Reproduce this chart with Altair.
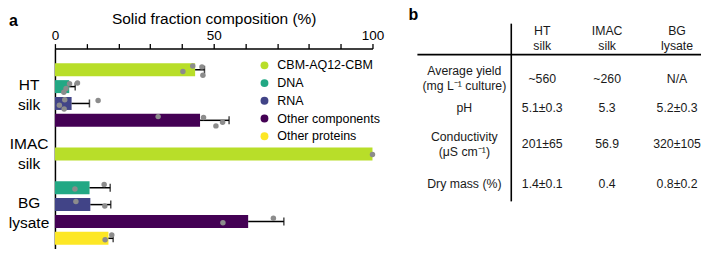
import altair as alt
import pandas as pd

# ---------------- data ----------------
COMPONENTS = ["CBM-AQ12-CBM", "DNA", "RNA", "Other components", "Other proteins"]
COLORS = ["#b8de29", "#22a884", "#414487", "#440154", "#fde725"]

# replicate values (% of solid fraction)
HT_CBM = [43.4, 46.3, 40.3, 46.6]
HT_DNA = [7.1, 4.6, 3.5, 2.8]
HT_RNA = [3.1, 13.6, 1.4, 2.9]
HT_OTHER = [32.5, 46.8, 52.8, 50.7]
IMAC_CBM = [100.0]
BG_DNA = [15.5, 6.3]
BG_RNA = [6.6, 15.7]
BG_OTHER = [68.8, 52.9]
BG_OP = [17.9, 15.8]

GROUPS = ["HT silk", "IMAC silk", "BG lysate"]
GROUP_LINES = [["HT", "silk"], ["IMAC", "silk"], ["BG", "lysate"]]

# bar order, top to bottom (None = empty slot between groups)
BAR_ORDER = [
    ("HT silk", "CBM-AQ12-CBM", HT_CBM),
    ("HT silk", "DNA", HT_DNA),
    ("HT silk", "RNA", HT_RNA),
    ("HT silk", "Other components", HT_OTHER),
    None,
    ("IMAC silk", "CBM-AQ12-CBM", IMAC_CBM),
    None,
    ("BG lysate", "DNA", BG_DNA),
    ("BG lysate", "RNA", BG_RNA),
    ("BG lysate", "Other components", BG_OTHER),
    ("BG lysate", "Other proteins", BG_OP),
]

# table (panel b)
COLUMN_HEADERS = ["HT\nsilk", "IMAC\nsilk", "BG\nlysate"]
ROW_LABELS = ["Average yield\n(mg L\u207b\u00b9 culture)", "pH", "Conductivity\n(\u03bcS cm\u207b\u00b9)", "Dry mass (%)"]
HT_VALUES = ["~560", "5.1\u00b10.3", "201\u00b165", "1.4\u00b10.1"]
IMAC_VALUES = ["~260", "5.3", "56.9", "0.4"]
BG_VALUES = ["N/A", "5.2\u00b10.3", "320\u00b1105", "0.8\u00b10.2"]

# ---------------- layout / style ----------------
FONT = "Liberation Sans"
JITTER = {4: [-0.22, -0.17, 0.11, 0.33], 2: [-0.19, 0.08], 1: [0.03]}  # vertical dot spread, in bar slots
BAR_RANGE_X = [0, 318]          # panel a plot, px from view origin
BAR_RANGE_Y = [0, 204]
Y_DOMAIN = [-0.958, 10.535]
PANEL_A = (-14.47, -2.620)      # in (%, slot) units of panel a
TABLE_W, TABLE_H = 284, 153
TABLE_RANGE_X = [363, 363 + TABLE_W]
COL_X = [47, 125, 190, 260]
HEADER_Y = -10
ROW_Y = [30, 59, 96, 136]
VLINE = (94, -25, TABLE_H)
HLINE = (6, 0, TABLE_W)
PANEL_B = (-9, -29)
TEXT_LH = 15.5
TABLE_FS = 12.3

# ---------------- build data frames ----------------
rows = []
group_slots = {g: [] for g in GROUPS}
for slot, entry in enumerate(BAR_ORDER):
    if entry is None:
        continue
    g, c, vals = entry
    group_slots[g].append(slot)
    jit = JITTER[len(vals)]
    for i, v in enumerate(vals):
        rows.append({"group": g, "component": c, "slot": slot, "value": v, "yj": slot + jit[i]})
df = pd.DataFrame(rows)

centers = [sum(group_slots[g]) / len(group_slots[g]) for g in GROUPS]
label_expr = ""
for i, (cval, lines) in enumerate(zip(centers, GROUP_LINES)):
    arr = "[" + ",".join("'%s'" % s for s in lines) + "]"
    if i < len(centers) - 1:
        label_expr += "abs(datum.value - %s) < 0.01 ? %s : " % (cval, arr)
    else:
        label_expr += arr

xscale = alt.Scale(domain=[0, 100], range=BAR_RANGE_X, nice=False, zero=False)
yscale = alt.Scale(domain=Y_DOMAIN, range=BAR_RANGE_Y, nice=False, zero=False)

xaxis = alt.Axis(
    orient="top", values=list(range(0, 101, 10)),
    labelExpr="datum.value % 50 === 0 ? datum.label : ''",
    title="Solid fraction composition (%)", titleFontSize=15.5, titleFontWeight="normal",
    titleColor="black", titlePadding=2.3, labelFontSize=13.5, labelPadding=1.2, labelFlush=False,
    labelColor="black", tickSize=5, tickColor="black", tickWidth=1.3,
    domainColor="black", domainWidth=1.5, grid=False,
)
yaxis = alt.Axis(
    orient="left", values=centers, labelExpr=label_expr, ticks=False, tickSize=0,
    labelPadding=26.4, labelAlign="center", labelBaseline="middle", labelFontSize=15.5,
    labelLineHeight=20, labelOffset=-10.5, labelColor="black", labelOverlap=False,
    domainColor="black", domainWidth=1.5, grid=False, title=None,
)

base = alt.Chart(df)
agg = base.transform_aggregate(
    mean="mean(value)", sd="stdev(value)", groupby=["group", "component", "slot"]
)

bars = agg.mark_bar(orient="horizontal", size=13).encode(
    x=alt.X("mean:Q", scale=xscale, axis=xaxis),
    y=alt.Y("slot:Q", scale=yscale, axis=yaxis),
    color=alt.Color(
        "component:N",
        scale=alt.Scale(domain=COMPONENTS, range=COLORS),
        legend=alt.Legend(
            title=None, orient="none", legendX=203.6, legendY=10.5, symbolType="circle",
            symbolSize=62, symbolStrokeWidth=0, symbolOpacity=1, labelFontSize=12.5,
            labelColor="black", rowPadding=4.75, labelOffset=6.6, padding=0,
        ),
    ),
)

err = agg.transform_calculate(upper="datum.mean + datum.sd").transform_filter("isValid(datum.sd)")
rules = err.mark_rule(color="black", strokeWidth=1.5).encode(
    x=alt.X("mean:Q", scale=xscale), x2="upper:Q", y=alt.Y("slot:Q", scale=yscale)
)
caps = err.mark_tick(orient="vertical", color="black", size=8, thickness=1.5).encode(
    x=alt.X("upper:Q", scale=xscale), y=alt.Y("slot:Q", scale=yscale)
)
dots = base.mark_circle(size=30, color="#8c8c8c", opacity=1).encode(
    x=alt.X("value:Q", scale=xscale), y=alt.Y("yj:Q", scale=yscale)
)
label_a = alt.Chart(pd.DataFrame([{"t": "a", "x": PANEL_A[0], "y": PANEL_A[1]}])).mark_text(
    fontSize=16, fontWeight="bold", align="left", baseline="alphabetic", color="black"
).encode(x=alt.X("x:Q", scale=xscale), y=alt.Y("y:Q", scale=yscale), text="t:N")

panel_a = alt.layer(bars, rules, caps, dots, label_a)

# ---------------- table ----------------
def block_y(center, txt):
    n = txt.count("\n") + 1
    return center - (n - 1) * TEXT_LH / 2

cells = []
for j, h in enumerate(COLUMN_HEADERS):
    cells.append({"t": h, "x": COL_X[j + 1], "y": block_y(HEADER_Y, h)})
for i, lab in enumerate(ROW_LABELS):
    cells.append({"t": lab, "x": COL_X[0], "y": block_y(ROW_Y[i], lab)})
for j, vals in enumerate([HT_VALUES, IMAC_VALUES, BG_VALUES]):
    for i, v in enumerate(vals):
        cells.append({"t": v, "x": COL_X[j + 1], "y": block_y(ROW_Y[i], v)})
cells_df = pd.DataFrame(cells)
lines_df = pd.DataFrame([
    {"x": VLINE[0], "x2": VLINE[0], "y": VLINE[1], "y2": VLINE[2]},
    {"x": HLINE[1], "x2": HLINE[2], "y": HLINE[0], "y2": HLINE[0]},
])

tx = alt.Scale(domain=[0, TABLE_W], range=TABLE_RANGE_X, nice=False, zero=False)
ty = alt.Scale(domain=[0, TABLE_H], range=[0, TABLE_H], nice=False, zero=False)

text = alt.Chart(cells_df).mark_text(
    fontSize=TABLE_FS, color="#1a1a1a", align="center", baseline="middle",
    lineHeight=TEXT_LH, lineBreak="\n"
).encode(
    x=alt.X("x:Q", scale=tx, axis=None), y=alt.Y("y:Q", scale=ty, axis=None), text="t:N"
)
lines = alt.Chart(lines_df).mark_rule(color="black", strokeWidth=1.6).encode(
    x=alt.X("x:Q", scale=tx, axis=None), x2="x2:Q",
    y=alt.Y("y:Q", scale=ty, axis=None), y2="y2:Q",
)
label_b = alt.Chart(pd.DataFrame([{"t": "b", "x": PANEL_B[0], "y": PANEL_B[1]}])).mark_text(
    fontSize=16, fontWeight="bold", align="left", baseline="alphabetic", color="black"
).encode(x=alt.X("x:Q", scale=tx, axis=None), y=alt.Y("y:Q", scale=ty, axis=None), text="t:N")

panel_b = alt.layer(lines, text, label_b)

chart = alt.layer(panel_a, panel_b).resolve_scale(
    x="independent", y="independent"
).properties(
    width=TABLE_RANGE_X[1], height=BAR_RANGE_Y[1],
    padding={"left": 0, "top": -1.5, "right": 0, "bottom": -3.75},
).configure(font=FONT).configure_view(stroke=None)

chart.save("out.html", embed_options={"renderer": "svg", "actions": False})
